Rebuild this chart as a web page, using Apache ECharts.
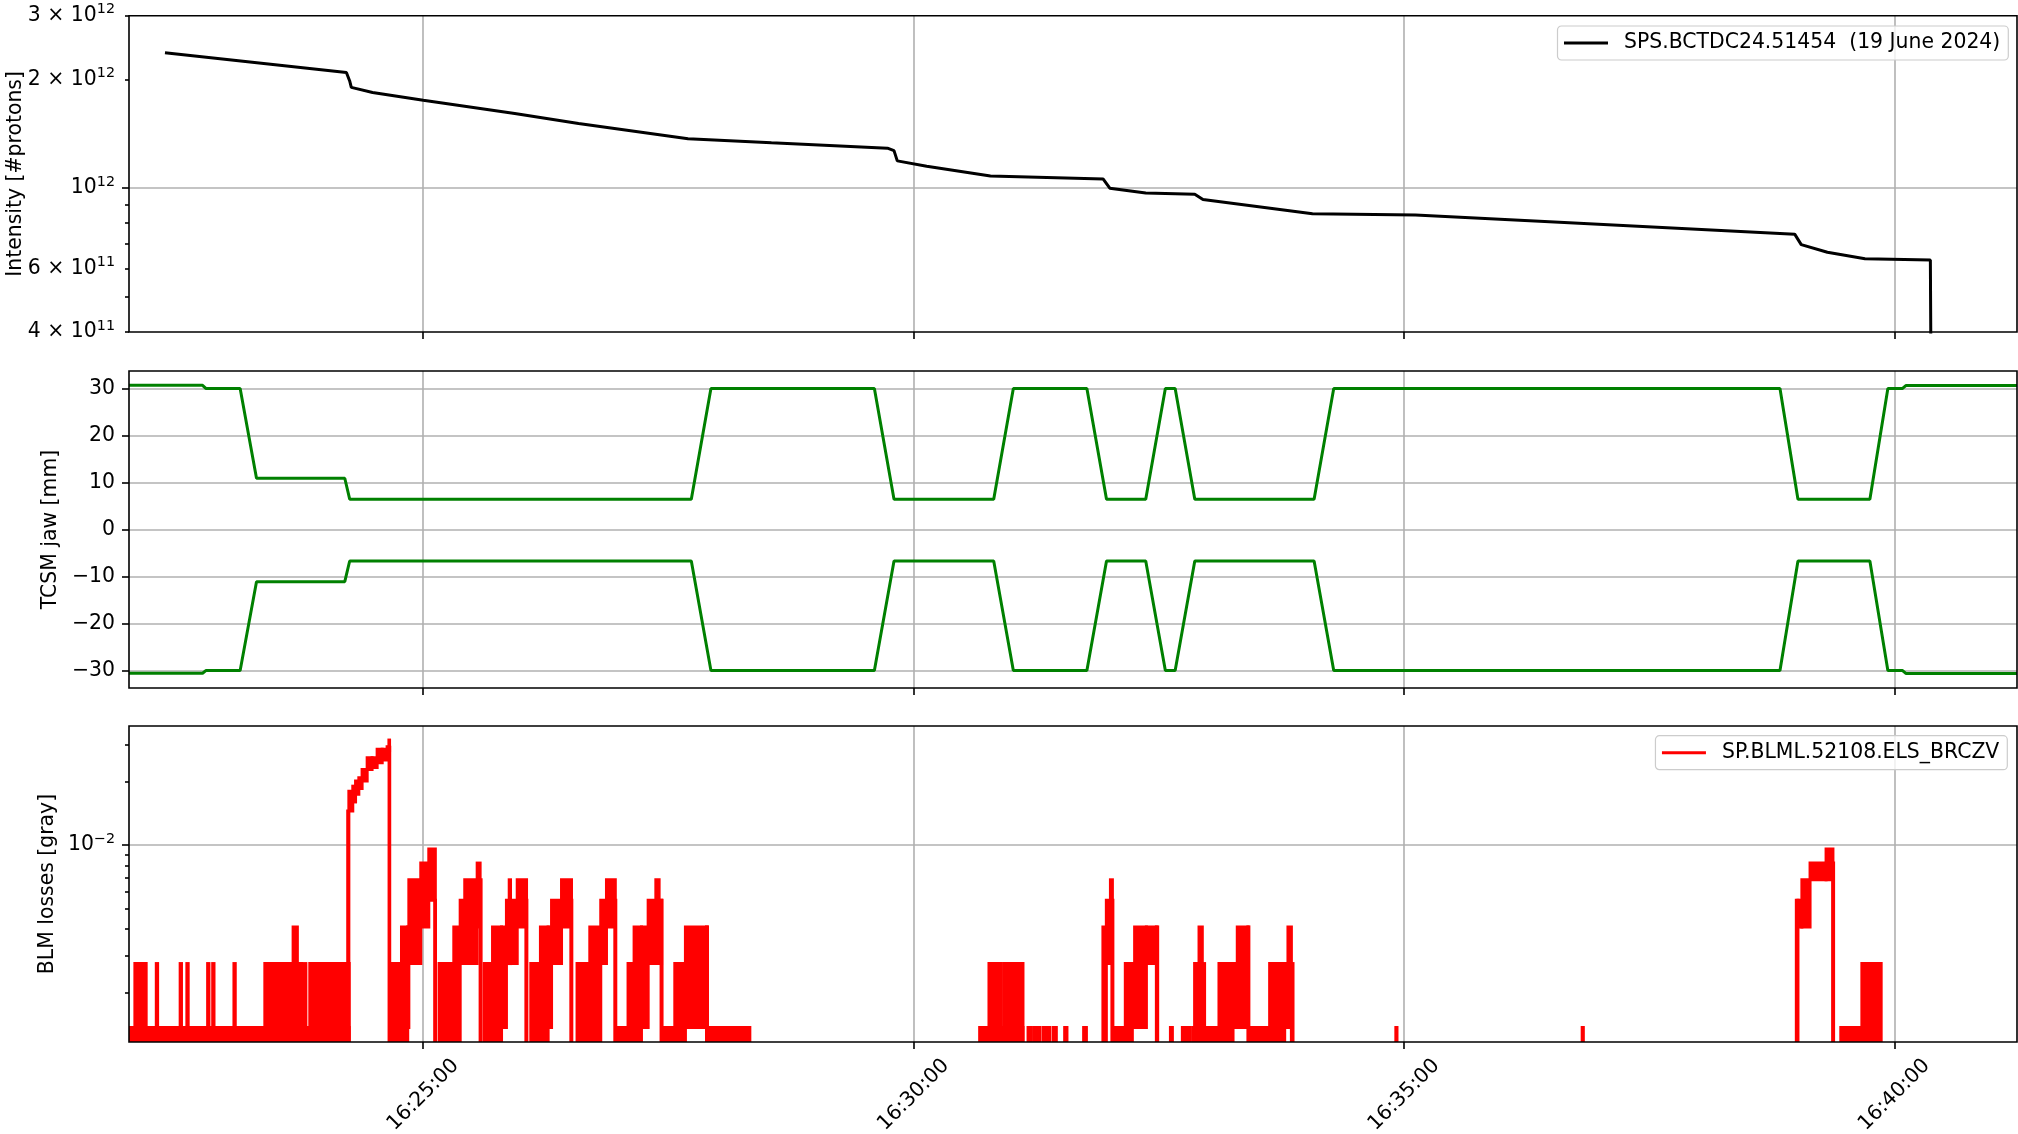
<!DOCTYPE html>
<html><head><meta charset="utf-8">
<script src="https://cdn.jsdelivr.net/npm/echarts@6/dist/echarts.min.js"></script>
<style>html,body{margin:0;padding:0;background:#fff}#c{width:2018px;height:1134px}</style>
</head><body><div id="c"></div>
<script>
// ---------------- data ----------------
const xRange = ['16:22:00', '16:41:15'];
const xTickLabels = ['16:25:00', '16:30:00', '16:35:00', '16:40:00'];

const intensityName = 'SPS.BCTDC24.51454  (19 June 2024)';
const intensityRange = [4e11, 3e12];
const intensityLabelTicks = [4e11, 6e11, 1e12, 2e12, 3e12];
const intensityMajorTicks = [1e12];
const intensityMinorTicks = [4e11, 5e11, 6e11, 7e11, 8e11, 9e11, 2e12, 3e12];
const intensityTime = ['16:22:22','16:24:13','16:24:15','16:24:16','16:24:29','16:25:00','16:25:56','16:26:35','16:27:42','16:28:33','16:29:44','16:29:48','16:29:50','16:30:08','16:30:47','16:31:56','16:32:00','16:32:22','16:32:52','16:32:57','16:34:04','16:35:07','16:36:26','16:38:59','16:39:03','16:39:19','16:39:42','16:40:22','16:40:23'];
const intensityValue = [2.37e12,2.09e12,1.98e12,1.90e12,1.84e12,1.75e12,1.61e12,1.51e12,1.37e12,1.335e12,1.29e12,1.27e12,1.19e12,1.15e12,1.08e12,1.06e12,1.00e12,9.70e11,9.62e11,9.30e11,8.50e11,8.43e11,8.09e11,7.46e11,6.98e11,6.65e11,6.38e11,6.33e11,1.0e11];

const jawRange = [-33.7, 33.7];
const jawTicks = [-30, -20, -10, 0, 10, 20, 30];
const jawTime = ['16:22:00','16:22:45','16:22:47','16:23:08','16:23:18','16:24:12','16:24:15','16:27:44','16:27:56','16:29:36','16:29:48','16:30:49','16:31:01','16:31:46','16:31:58','16:32:22','16:32:34','16:32:40','16:32:52','16:34:05','16:34:17','16:38:50','16:39:01','16:39:45','16:39:56','16:40:05','16:40:07','16:41:15'];
const jawUpper = [30.65,30.65,30.0,30.0,10.9,10.9,6.45,6.45,30.0,30.0,6.45,6.45,30.0,30.0,6.45,6.45,30.0,30.0,6.45,6.45,30.0,30.0,6.45,6.45,30.0,30.0,30.6,30.6];
const jawLower = [-30.57,-30.57,-30.0,-30.0,-11.1,-11.1,-6.7,-6.7,-30.0,-30.0,-6.7,-6.7,-30.0,-30.0,-6.7,-6.7,-30.0,-30.0,-6.7,-6.7,-30.0,-30.0,-6.7,-6.7,-30.0,-30.0,-30.6,-30.6];

const blmName = 'SP.BLML.52108.ELS_BRCZV';
const blmRange = [1.17e-3, 3.66e-2];
const blmLabelTicks = [1e-2];
const blmMajorTicks = [1e-2];
const blmMinorTicks = [2e-3,3e-3,4e-3,5e-3,6e-3,7e-3,8e-3,9e-3,2e-2,3e-2];
// envelope of the fast-toggling BLM signal: [start, end] time, low and high reading (0 = no loss)
const blmStart = ['16:22:00.0','16:22:03.6','16:22:16.7','16:22:31.3','16:22:35.4','16:22:48.1','16:22:51.2','16:23:04.2','16:23:23.1','16:23:40.4','16:23:47.0','16:23:50.6','16:24:01.5',
 '16:24:13.8','16:24:14.5','16:24:16.9','16:24:18.6','16:24:20.6','16:24:22.6','16:24:25.7','16:24:28.7','16:24:31.8','16:24:34.9','16:24:37.9','16:24:39.0','16:24:39.1',
 '16:24:39.7','16:24:46.7','16:24:50.5','16:24:51.2','16:24:58.5','16:25:03.4','16:25:07.0',
 '16:25:09.7','16:25:18.7','16:25:22.6','16:25:25.4','16:25:33.0','16:25:34.8',
 '16:25:37.3','16:25:42.4','16:25:47.9','16:25:50.9','16:25:52.6','16:25:57.5','16:26:02.8',
 '16:26:05.8','16:26:11.7','16:26:16.4','16:26:18.5','16:26:24.6','16:26:30.3',
 '16:26:34.1','16:26:41.9','16:26:48.6','16:26:52.1','16:26:57.2',
 '16:26:57.8','16:27:05.3','16:27:09.0','16:27:13.5','16:27:17.6','16:27:22.3','16:27:25.5',
 '16:27:26.4','16:27:33.9','16:27:40.4','16:27:53.3','16:27:55.3',
 '16:30:40.4','16:30:46.1','16:30:55.3','16:30:58.8','16:31:10.0','16:31:13.5','16:31:19.1','16:31:25.3','16:31:32.4','16:31:44.0',
 '16:31:55.8','16:31:57.9','16:32:00.4','16:32:01.3','16:32:02.4','16:32:09.5','16:32:13.8','16:32:15.2','16:32:22.4','16:32:28.5',
 '16:32:37.1','16:32:44.4','16:32:47.5','16:32:50.9','16:32:51.9','16:32:54.6','16:32:56.6','16:32:58.0','16:33:06.8','16:33:15.4','16:33:18.0','16:33:24.5',
 '16:33:25.1','16:33:37.8','16:33:47.0','16:33:49.0','16:33:51.1',
 '16:34:55.0','16:36:49.0',
 '16:39:00.0','16:39:01.0','16:39:03.4','16:39:08.4','16:39:18.2','16:39:22.2','16:39:27.2','16:39:40.1'];
const blmEnd = ['16:24:14.7','16:22:10.5','16:22:17.5','16:22:32.1','16:22:36.2','16:22:48.9','16:22:52.0','16:23:05.0','16:23:45.6','16:23:43.0','16:23:48.2','16:24:00.4','16:24:14.7',
 '16:24:14.5','16:24:16.9','16:24:18.6','16:24:20.6','16:24:22.6','16:24:25.7','16:24:28.7','16:24:31.8','16:24:34.9','16:24:37.9','16:24:39.0','16:24:39.4','16:24:39.5',
 '16:24:46.7','16:24:50.5','16:24:51.2','16:24:58.5','16:25:03.4','16:25:07.4','16:25:07.5',
 '16:25:18.7','16:25:22.6','16:25:25.4','16:25:33.0','16:25:34.8','16:25:35.4',
 '16:25:42.4','16:25:47.9','16:25:50.9','16:25:57.5','16:25:53.4','16:26:03.2','16:26:03.4',
 '16:26:11.7','16:26:16.4','16:26:18.5','16:26:24.6','16:26:30.7','16:26:30.9',
 '16:26:41.9','16:26:48.6','16:26:52.1','16:26:57.5','16:26:57.8',
 '16:27:05.3','16:27:09.0','16:27:13.5','16:27:17.6','16:27:25.8','16:27:24.3','16:27:26.1',
 '16:27:33.9','16:27:40.4','16:27:53.6','16:27:53.9','16:28:19.8',
 '16:31:06.9','16:30:53.7','16:30:57.7','16:31:06.9','16:31:12.0','16:31:17.1','16:31:23.2','16:31:27.3','16:31:33.8','16:31:45.7',
 '16:31:57.9','16:32:00.4','16:32:01.6','16:32:01.9','16:32:09.5','16:32:13.8','16:32:15.2','16:32:22.4','16:32:28.5','16:32:29.3',
 '16:32:38.3','16:32:46.0','16:32:49.3','16:32:51.9','16:32:54.6','16:32:56.6','16:32:58.0','16:33:06.8','16:33:15.4','16:33:18.0','16:33:24.5','16:33:25.1',
 '16:33:37.8','16:33:47.0','16:33:49.0','16:33:51.1','16:33:52.1',
 '16:34:55.7','16:36:49.7',
 '16:39:01.0','16:39:03.4','16:39:08.4','16:39:18.2','16:39:22.4','16:39:22.8','16:39:40.1','16:39:51.9'];
const blmLow = [0,0,0,0,0,0,0,0,0,0,0,0,0,
 0,1.45e-2,1.60e-2,1.74e-2,1.85e-2,2.01e-2,2.28e-2,2.33e-2,2.45e-2,2.53e-2,2.68e-2,2.80e-2,0,
 0,0,1.37e-3,2.75e-3,4.1e-3,5.48e-3,0,
 0,0,2.75e-3,2.75e-3,4.1e-3,0,
 0,0,1.37e-3,2.75e-3,2.75e-3,4.1e-3,0,
 0,0,1.37e-3,2.75e-3,4.1e-3,0,
 0,0,2.75e-3,4.1e-3,0,
 0,0,0,1.37e-3,2.75e-3,2.75e-3,0,
 0,0,1.37e-3,0,0,
 0,0,0,0,0,0,0,0,0,0,
 0,2.75e-3,4.1e-3,0,0,0,1.37e-3,1.37e-3,2.75e-3,0,
 0,0,0,0,0,0,0,0,0,1.37e-3,1.37e-3,0,
 0,0,1.37e-3,1.37e-3,0,
 0,0,
 0,4.1e-3,4.1e-3,6.85e-3,6.85e-3,0,0,0];
const blmHigh = [1.37e-3,2.75e-3,2.75e-3,2.75e-3,2.75e-3,2.75e-3,2.75e-3,2.75e-3,2.75e-3,4.1e-3,2.75e-3,2.75e-3,2.75e-3,
 1.45e-2,1.80e-2,1.90e-2,2.01e-2,2.08e-2,2.28e-2,2.59e-2,2.59e-2,2.84e-2,2.84e-2,2.92e-2,3.14e-2,2.9e-2,
 2.75e-3,4.1e-3,4.1e-3,6.85e-3,8.22e-3,9.59e-3,5.48e-3,
 2.75e-3,4.1e-3,5.48e-3,6.85e-3,8.22e-3,6.85e-3,
 2.75e-3,4.1e-3,4.1e-3,5.48e-3,6.85e-3,6.85e-3,5.48e-3,
 2.75e-3,4.1e-3,4.1e-3,5.48e-3,6.85e-3,5.48e-3,
 2.75e-3,4.1e-3,5.48e-3,6.85e-3,5.48e-3,
 1.37e-3,2.75e-3,4.1e-3,4.1e-3,5.48e-3,6.85e-3,5.48e-3,
 1.37e-3,2.75e-3,4.1e-3,4.1e-3,1.37e-3,
 1.37e-3,2.75e-3,2.75e-3,2.75e-3,1.37e-3,1.37e-3,1.37e-3,1.37e-3,1.37e-3,1.37e-3,
 4.1e-3,5.48e-3,6.85e-3,5.48e-3,1.37e-3,2.75e-3,2.75e-3,4.1e-3,4.1e-3,4.1e-3,
 1.37e-3,1.37e-3,1.37e-3,1.37e-3,2.75e-3,4.1e-3,2.75e-3,1.37e-3,2.75e-3,2.75e-3,4.1e-3,4.1e-3,
 1.37e-3,2.75e-3,2.75e-3,4.1e-3,2.75e-3,
 1.37e-3,1.37e-3,
 5.48e-3,5.48e-3,6.85e-3,8.22e-3,9.59e-3,8.22e-3,1.37e-3,2.75e-3];

// ---------------- helpers ----------------
const FONT = 'DejaVu Sans';
const FS = 20.4;
function sec(s) { const p = s.split(':'); return (+p[0]) * 3600 + (+p[1]) * 60 + parseFloat(p[2]); }
function clock(v) { v = Math.round(v); const h = Math.floor(v / 3600), m = Math.floor(v % 3600 / 60), s = v % 60; return [h, m, s].map(n => String(n).padStart(2, '0')).join(':'); }
function sciLabel(lv) {
  const e = Math.floor(lv + 1e-9);
  const m = Math.round(Math.pow(10, lv - e));
  const exp = String(e).replace('-', '\u2212');
  return (m === 1 ? '{b|10}' : '{b|' + m + ' \u00d7 10}') + '{s|' + exp + '}';
}
const X_MIN = sec(xRange[0]), X_MAX = sec(xRange[1]);
const xTicks = xTickLabels.map(sec);
const gridLine = { color: '#b0b0b0', width: 1.6 };
const tickLine = { color: '#000', width: 1.6 };
const richSci = {
  b: { fontSize: FS, lineHeight: 26, fontFamily: FONT, color: '#000' },
  s: { fontSize: 14.3, lineHeight: 14, verticalAlign: 'top', fontFamily: FONT, color: '#000' }
};
const nameStyle = { fontSize: FS, color: '#000', fontFamily: FONT };

const grids = [
  { left: 129, right: 1, top: 15.7, height: 316.3 },
  { left: 129, right: 1, top: 371, height: 317 },
  { left: 129, right: 1, top: 726, height: 316 }
].map(g => Object.assign(g, { show: true, z: 10, backgroundColor: 'rgba(0,0,0,0)', borderColor: '#000', borderWidth: 1.6, outerBoundsMode: 'none', containLabel: false }));

function xAxisFor(i, showLabels) {
  return {
    type: 'value', gridIndex: i, min: X_MIN, max: X_MAX,
    axisLine: { show: false, onZero: false },
    axisTick: { show: true, customValues: xTicks, length: 7, lineStyle: tickLine },
    splitLine: { show: true, lineStyle: gridLine },
    axisLabel: showLabels ? {
      show: true, customValues: xTicks, formatter: v => clock(v), rotate: 45, align: 'center', verticalAlign: 'middle',
      margin: 53, fontSize: FS, color: '#000', fontFamily: FONT
    } : { show: false }
  };
}
function logHelper(gi, range, ticks, len, labels) {
  return {
    type: 'value', gridIndex: gi, position: 'left', offset: 0,
    min: Math.log10(range[0]), max: Math.log10(range[1]),
    axisLine: { show: false, onZero: false }, splitLine: { show: false },
    axisTick: { show: true, customValues: ticks.map(Math.log10), length: len, lineStyle: tickLine },
    axisLabel: labels ? { show: true, customValues: labels.map(Math.log10), formatter: sciLabel, rich: richSci, margin: 14, color: '#000', fontFamily: FONT, fontSize: FS } : { show: false }
  };
}

const yAxes = [
  { type: 'log', logBase: 10, gridIndex: 0, min: intensityRange[0], max: intensityRange[1],
    axisLine: { show: false }, axisTick: { show: false }, axisLabel: { show: false },
    splitLine: { show: true, showMinLine: false, showMaxLine: false, lineStyle: gridLine },
    name: 'Intensity [#protons]', nameLocation: 'middle', nameGap: 103, nameTextStyle: nameStyle },
  logHelper(0, intensityRange, intensityMajorTicks, 7, intensityLabelTicks),
  logHelper(0, intensityRange, intensityMinorTicks, 4, null),
  { type: 'value', gridIndex: 1, min: jawRange[0], max: jawRange[1],
    axisLine: { show: false, onZero: false },
    axisTick: { show: true, customValues: jawTicks, length: 7, lineStyle: tickLine },
    axisLabel: { show: true, customValues: jawTicks, formatter: v => String(v).replace('-', '\u2212'), margin: 14, fontSize: FS, color: '#000', fontFamily: FONT },
    splitLine: { show: true, lineStyle: gridLine },
    name: 'TCSM jaw [mm]', nameLocation: 'middle', nameGap: 66, nameTextStyle: nameStyle },
  { type: 'log', logBase: 10, gridIndex: 2, min: blmRange[0], max: blmRange[1],
    axisLine: { show: false }, axisTick: { show: false }, axisLabel: { show: false },
    splitLine: { show: true, showMinLine: false, showMaxLine: false, lineStyle: gridLine },
    name: 'BLM losses [gray]', nameLocation: 'middle', nameGap: 71, nameTextStyle: nameStyle },
  logHelper(2, blmRange, blmMajorTicks, 7, blmLabelTicks),
  logHelper(2, blmRange, blmMinorTicks, 4, null)
];

const legendCommon = {
  orient: 'horizontal', icon: 'rect', itemWidth: 44, itemHeight: 3, selectedMode: false,
  padding: [7, 8, 7, 6.5], backgroundColor: 'rgba(255,255,255,0.8)', borderColor: '#cccccc', borderWidth: 1.2, borderRadius: 4,
  textStyle: { fontSize: FS, color: '#000', fontFamily: FONT, padding: [0, 0, 0, 11] }
};

const option = {
  animation: false,
  backgroundColor: '#fff',
  textStyle: { fontFamily: FONT },
  grid: grids,
  legend: [
    Object.assign({ data: [intensityName], right: 9.7, top: 26 }, legendCommon),
    Object.assign({ data: [blmName], right: 10.7, top: 735.7 }, legendCommon)
  ],
  xAxis: [xAxisFor(0, false), xAxisFor(1, false), xAxisFor(2, true)],
  yAxis: yAxes,
  series: [
    { type: 'line', name: intensityName, xAxisIndex: 0, yAxisIndex: 0,
      data: intensityTime.map((t, i) => [sec(t), intensityValue[i]]),
      showSymbol: false, symbol: 'none', clip: true,
      lineStyle: { color: '#000000', width: 3 }, itemStyle: { color: '#000000' } },
    { type: 'line', name: 'TCSM upper', xAxisIndex: 1, yAxisIndex: 3,
      data: jawTime.map((t, i) => [sec(t), jawUpper[i]]),
      showSymbol: false, symbol: 'none', clip: true,
      lineStyle: { color: '#008000', width: 3 }, itemStyle: { color: '#008000' } },
    { type: 'line', name: 'TCSM lower', xAxisIndex: 1, yAxisIndex: 3,
      data: jawTime.map((t, i) => [sec(t), jawLower[i]]),
      showSymbol: false, symbol: 'none', clip: true,
      lineStyle: { color: '#008000', width: 3 }, itemStyle: { color: '#008000' } },
    { type: 'custom', name: blmName, xAxisIndex: 2, yAxisIndex: 4, clip: true,
      data: blmStart.map((s, i) => [sec(s), sec(blmEnd[i]), blmLow[i], blmHigh[i]]),
      encode: { x: [0, 1], y: 3 },
      itemStyle: { color: '#ff0000' },
      renderItem: function (params, api) {
        const t0 = api.value(0), t1 = api.value(1), lo = api.value(2), hi = api.value(3);
        const cs = params.coordSys;
        const pA = api.coord([t0, hi]);
        const pB = api.coord([t1, hi]);
        const yLo = lo > 0 ? api.coord([t0, lo])[1] : cs.y + cs.height + 3;
        return {
          type: 'rect',
          shape: { x: pA[0], y: pA[1], width: Math.max(pB[0] - pA[0], 0.3), height: yLo - pA[1] },
          style: { fill: '#ff0000', stroke: '#ff0000', lineWidth: 3 }
        };
      } }
  ]
};

const chart = echarts.init(document.getElementById('c'), null, { renderer: 'canvas', width: 2018, height: 1134 });
chart.setOption(option);
</script>
</body></html>
